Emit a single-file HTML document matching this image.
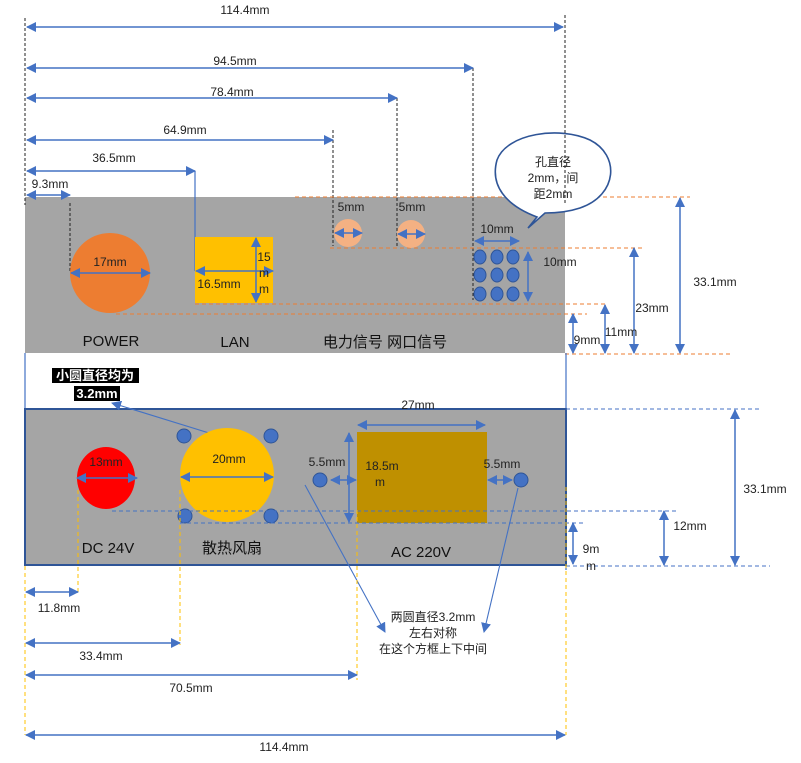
<!DOCTYPE html>
<html><head><meta charset="utf-8"><style>
html,body{margin:0;padding:0;background:#fff}
svg{display:block}
text{font-family:"Liberation Sans","Noto Sans CJK SC",sans-serif;font-size:12px;fill:#222;text-anchor:middle}
.lb{font-size:15px;fill:#111}
.a{stroke:#4472c4;stroke-width:1.5;fill:none;marker-start:url(#h);marker-end:url(#h)}
.a1{stroke:#4472c4;stroke-width:1.1;fill:none;marker-end:url(#h)}
.kd{stroke:#222;stroke-width:1;stroke-dasharray:3 2;fill:none}
.od{stroke:#ed7d31;stroke-width:1;stroke-dasharray:4 3;fill:none}
.bd{stroke:#4472c4;stroke-width:1;stroke-dasharray:4 3;fill:none}
.yd{stroke:#ffc000;stroke-width:1;stroke-dasharray:4 3;fill:none}
</style></head><body>
<svg width="801" height="763" viewBox="0 0 801 763" xmlns="http://www.w3.org/2000/svg">
<defs><marker id="h" viewBox="0 0 10 10" refX="9" refY="5" markerWidth="10" markerHeight="10" orient="auto-start-reverse" markerUnits="userSpaceOnUse"><path d="M0,0 L10,5 L0,10 z" fill="#4472c4"/></marker></defs>

<rect x="25" y="197" width="540" height="156" fill="#a5a5a5"/>
<line class="kd" x1="25" y1="18" x2="25" y2="205"/>
<line class="kd" x1="565" y1="15" x2="565" y2="205"/>
<line class="kd" x1="473" y1="68" x2="473" y2="300"/>
<line class="kd" x1="397" y1="98" x2="397" y2="246"/>
<line class="kd" x1="333" y1="130" x2="333" y2="246"/>
<line x1="195" y1="171" x2="195" y2="271" stroke="#4472c4" stroke-width="1.2"/>
<line class="kd" x1="70" y1="203" x2="70" y2="273"/>

<line class="a" x1="27" y1="27" x2="563" y2="27"/><text x="245" y="14">114.4mm</text>
<line class="a" x1="27" y1="68" x2="473" y2="68"/><text x="235" y="65">94.5mm</text>
<line class="a" x1="27" y1="98" x2="397" y2="98"/><text x="232" y="96">78.4mm</text>
<line class="a" x1="27" y1="140" x2="333" y2="140"/><text x="185" y="134">64.9mm</text>
<line class="a" x1="27" y1="171" x2="195" y2="171"/><text x="114" y="162">36.5mm</text>
<line class="a" x1="27" y1="195" x2="70" y2="195"/><text x="50" y="188">9.3mm</text>

<line class="od" x1="295" y1="197" x2="690" y2="197"/>
<line class="od" x1="330" y1="248" x2="645" y2="248"/>
<line class="od" x1="195" y1="304" x2="605" y2="304"/>
<line class="od" x1="116" y1="314" x2="587" y2="314"/>
<line class="od" x1="565" y1="354" x2="732" y2="354"/>

<circle cx="110" cy="273" r="40" fill="#ed7d31"/>
<line class="a" x1="71" y1="273" x2="150" y2="273"/><text x="110" y="266">17mm</text>

<rect x="195" y="237" width="78" height="66" fill="#ffc000"/>
<line class="a" x1="196" y1="271" x2="273" y2="271"/>
<line class="a" x1="256" y1="238" x2="256" y2="302"/>
<text x="219" y="288">16.5mm</text>
<text x="264" y="261">15</text><text x="264" y="277">m</text><text x="264" y="293">m</text>

<circle cx="348" cy="233" r="14" fill="#f4b183"/>
<line class="a" x1="335" y1="233" x2="362" y2="233"/>
<circle cx="411" cy="234" r="14" fill="#f4b183"/>
<line class="a" x1="398" y1="234" x2="425" y2="234"/>
<text x="351" y="211">5mm</text><text x="412" y="211">5mm</text>

<g fill="#4472c4" stroke="#2f5597" stroke-width="1">
<ellipse cx="480" cy="257" rx="6" ry="7"/><ellipse cx="497" cy="257" rx="6" ry="7"/><ellipse cx="513" cy="257" rx="6" ry="7"/>
<ellipse cx="480" cy="275" rx="6" ry="7"/><ellipse cx="497" cy="275" rx="6" ry="7"/><ellipse cx="513" cy="275" rx="6" ry="7"/>
<ellipse cx="480" cy="294" rx="6" ry="7"/><ellipse cx="497" cy="294" rx="6" ry="7"/><ellipse cx="513" cy="294" rx="6" ry="7"/>
</g>
<line class="a" x1="475" y1="241" x2="519" y2="241"/><text x="497" y="233">10mm</text>
<line class="a" x1="528" y1="252" x2="528" y2="301"/><text x="560" y="266">10mm</text>

<path d="M528,228 L537,217 C505,205 490,185 497,160 C507,133 560,126 590,140 C620,155 618,195 580,208 C565,213 550,213 545,213 Z" fill="#fff" stroke="#2f5597" stroke-width="1.6"/>
<line class="kd" x1="565" y1="130" x2="565" y2="205"/>
<text x="553" y="166">孔直径</text><text x="553" y="182">2mm，间</text><text x="553" y="198">距2mm</text>

<line class="a" x1="680" y1="198" x2="680" y2="353"/><text x="715" y="286">33.1mm</text>
<line class="a" x1="634" y1="248" x2="634" y2="353"/><text x="652" y="312">23mm</text>
<line class="a" x1="605" y1="305" x2="605" y2="353"/><text x="621" y="336">11mm</text>
<line class="a" x1="573" y1="314" x2="573" y2="353"/><text x="587" y="344">9mm</text>

<text class="lb" x="111" y="346">POWER</text>
<text class="lb" x="235" y="347">LAN</text>
<text class="lb" x="385" y="347">电力信号 网口信号</text>

<line x1="25" y1="353" x2="25" y2="409" stroke="#4472c4" stroke-width="1.2"/>
<line x1="566" y1="353" x2="566" y2="570" stroke="#4472c4" stroke-width="1.2"/>

<rect x="52" y="368" width="87" height="15" fill="#000"/>
<text x="95" y="380" style="fill:#fff;font-weight:bold;font-size:13px">小圆直径均为</text>
<rect x="74" y="386" width="46" height="15" fill="#000"/>
<text x="97" y="398" style="fill:#fff;font-weight:bold;font-size:13px">3.2mm</text>

<rect x="25" y="409" width="541" height="156" fill="#a5a5a5" stroke="#2f5597" stroke-width="2"/>
<line class="a1" x1="222" y1="437" x2="112" y2="403"/>

<ellipse cx="106" cy="478" rx="29" ry="31" fill="#ff0000"/>
<line class="a" x1="77" y1="478" x2="137" y2="478"/><text x="106" y="466">13mm</text>
<ellipse cx="227" cy="475" rx="47" ry="47" fill="#ffc000"/>
<line class="a" x1="181" y1="477" x2="273" y2="477"/><text x="229" y="463">20mm</text>
<g fill="#4472c4" stroke="#2f5597"><circle cx="184" cy="436" r="7"/><circle cx="271" cy="436" r="7"/><circle cx="185" cy="516" r="7"/><circle cx="271" cy="516" r="7"/></g>

<rect x="357" y="432" width="130" height="91" fill="#bf9000"/>
<line class="a" x1="358" y1="425" x2="485" y2="425"/><text x="418" y="409">27mm</text>
<line class="a" x1="349" y1="433" x2="349" y2="522"/>
<text x="382" y="470">18.5m</text><text x="380" y="486">m</text>
<g fill="#4472c4" stroke="#2f5597"><circle cx="320" cy="480" r="7"/><circle cx="521" cy="480" r="7"/></g>
<line class="a" x1="331" y1="480" x2="356" y2="480"/>
<line class="a" x1="488" y1="480" x2="512" y2="480"/>
<text x="327" y="466">5.5mm</text><text x="502" y="468">5.5mm</text>

<line class="bd" x1="566" y1="409" x2="760" y2="409"/>
<line class="bd" x1="112" y1="511" x2="676" y2="511"/>
<line class="bd" x1="180" y1="523" x2="585" y2="523"/>
<line class="bd" x1="566" y1="566" x2="770" y2="566"/>

<text class="lb" x="108" y="553">DC 24V</text>
<text class="lb" x="232" y="553">散热风扇</text>
<text class="lb" x="421" y="557">AC 220V</text>

<line class="a" x1="735" y1="410" x2="735" y2="565"/><text x="765" y="493">33.1mm</text>
<line class="a" x1="664" y1="511" x2="664" y2="565"/><text x="690" y="530">12mm</text>
<line class="a" x1="573" y1="523" x2="573" y2="564"/><text x="591" y="553">9m</text><text x="591" y="570">m</text>

<line class="a1" x1="305" y1="485" x2="385" y2="632"/>
<line class="a1" x1="518" y1="488" x2="484" y2="632"/>
<text x="433" y="621">两圆直径3.2mm</text>
<text x="433" y="637">左右对称</text>
<text x="433" y="653">在这个方框上下中间</text>

<line class="yd" x1="25" y1="566" x2="25" y2="735"/>
<line class="yd" x1="78" y1="490" x2="78" y2="595"/>
<line class="yd" x1="180" y1="490" x2="180" y2="645"/>
<line class="yd" x1="357" y1="510" x2="357" y2="680"/>
<line class="yd" x1="566" y1="487" x2="566" y2="735"/>

<line class="a" x1="26" y1="592" x2="78" y2="592"/><text x="59" y="612">11.8mm</text>
<line class="a" x1="26" y1="643" x2="180" y2="643"/><text x="101" y="660">33.4mm</text>
<line class="a" x1="26" y1="675" x2="357" y2="675"/><text x="191" y="692">70.5mm</text>
<line class="a" x1="26" y1="735" x2="565" y2="735"/><text x="284" y="751">114.4mm</text>
</svg>
</body></html>
